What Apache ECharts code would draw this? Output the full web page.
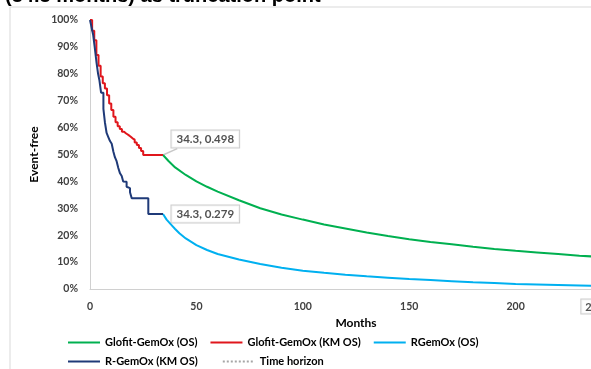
<html lang="en">

<head>
  <meta charset="utf-8">
  <title>Event-free survival</title>
  <script src="https://cdn.jsdelivr.net/npm/echarts@6/dist/echarts.min.js"></script>
  <style>
    body { margin: 0; background: #fff; }
    #chart { width: 591px; height: 369px; }
  </style>
</head>

<body>
  <div id="chart"></div>
</body>

<script>
  // Kaplan-Meier (observed) curves, months vs survival
  var glofitKM = [[0, 1.0], [1, 0.96], [2, 0.925], [3, 0.87], [4, 0.83], [5, 0.79], [6, 0.765], [7, 0.745],
    [8, 0.72], [9, 0.69], [10, 0.665], [11, 0.64], [12, 0.62], [13, 0.605], [14, 0.595], [15, 0.585],
    [16, 0.578], [17, 0.573], [18, 0.567], [19, 0.56], [20, 0.555], [21, 0.545], [22, 0.535], [23, 0.524],
    [24, 0.513], [25, 0.498], [34.3, 0.498]];
  var rgemoxKM = [[0, 1.0], [0.8, 0.97], [1.5, 0.944], [2.2, 0.9], [3.1, 0.84], [3.8, 0.8], [4.4, 0.777],
    [5.2, 0.73], [6.3, 0.67], [7, 0.62], [7.8, 0.58], [8.6, 0.565], [9.4, 0.55], [10.2, 0.54], [11, 0.51],
    [11.7, 0.49], [12.5, 0.475], [13.3, 0.45], [14.1, 0.43], [14.9, 0.42], [15.6, 0.4], [16.4, 0.399],
    [17.2, 0.38], [18, 0.375], [18.8, 0.36], [19.6, 0.337], [27.4, 0.279], [34.3, 0.279]];

  // extrapolated OS curves after truncation point
  var glofitOS = [[34.3, 0.498], [37, 0.475], [40, 0.452], [45, 0.424], [50, 0.4], [55, 0.38], [60, 0.362],
    [70, 0.33], [80, 0.3], [90, 0.277], [100, 0.258], [110, 0.24], [120, 0.225], [130, 0.21], [140, 0.197],
    [150, 0.185], [160, 0.175], [170, 0.166], [180, 0.157], [190, 0.149], [200, 0.142], [210, 0.136],
    [220, 0.13], [230, 0.124], [240, 0.119], [250, 0.114]];
  var rgemoxOS = [[34.3, 0.279], [36, 0.258], [38, 0.24], [40, 0.223], [42, 0.207], [45, 0.188], [50, 0.163],
    [55, 0.145], [60, 0.13], [70, 0.11], [80, 0.093], [90, 0.079], [100, 0.068], [110, 0.06], [120, 0.053],
    [130, 0.047], [140, 0.042], [150, 0.037], [160, 0.033], [170, 0.029], [180, 0.025], [190, 0.022],
    [200, 0.019], [210, 0.017], [220, 0.015], [230, 0.013], [240, 0.011], [250, 0.01]];

  var timeHorizon = [[240, 0], [240, 1]];
  var cutPoints = [[34.3, 0.498], [34.3, 0.279]];
  // callout pointer from the upper label box to its point
  var callout = [[34.3, 0.498], [41, 0.522]];

  var names = ['Glofit-GemOx (OS)', 'Glofit-GemOx (KM OS)', 'RGemOx (OS)', 'R-GemOx (KM OS)', 'Time horizon'];
  var colors = ['#00b050', '#e0161c', '#00b0f0', '#1f3a78', '#a6a6a6'];

  var font = 'Lato, "Open Sans", sans-serif';

  var plot = echarts.init(document.getElementById('chart'));

  option = {
    animation: false,
    backgroundColor: '#fff',
    title: {
      text: '(34.3 months) as truncation point',
      left: 0,
      top: -19,
      textStyle: { fontFamily: 'Liberation Sans', fontWeight: 'bold', fontSize: 20, color: '#000' }
    },
    graphic: [{
      type: 'rect',
      shape: { x: 10, y: 7, width: 620, height: 400 },
      style: { fill: 'none', stroke: '#d9d9d9', lineWidth: 1 },
      silent: true
    }],
    grid: { left: 90, right: -31, top: 20, bottom: 80, outerBoundsMode: 'none', containLabel: false },
    legend: [{
      data: names.slice(0, 3),
      left: 62, top: 332, itemWidth: 32, itemHeight: 10, itemGap: 12,
      itemStyle: { opacity: 0 },
      textStyle: { fontFamily: font, fontWeight: 'bold', fontSize: 11, color: '#000' }
    }, {
      data: names.slice(3),
      left: 62, top: 351, itemWidth: 32, itemHeight: 10, itemGap: 24,
      itemStyle: { opacity: 0 },
      textStyle: { fontFamily: font, fontWeight: 'bold', fontSize: 11, color: '#000' }
    }],
    xAxis: {
      type: 'value',
      min: 0, max: 250, interval: 50,
      name: 'Months', nameLocation: 'center', nameGap: 27,
      nameTextStyle: { fontFamily: font, fontWeight: 'bold', fontSize: 12, color: '#000' },
      axisLine: { lineStyle: { color: '#d0d0d0' } },
      axisTick: { show: false },
      splitLine: { show: false },
      axisLabel: { fontFamily: font, fontWeight: 'bold', fontSize: 10.5, color: '#404040', margin: 12 }
    },
    yAxis: {
      type: 'value',
      min: 0, max: 1, interval: 0.1,
      name: 'Event-free', nameLocation: 'center', nameGap: 46, nameRotate: 90,
      nameTextStyle: { fontFamily: font, fontWeight: 'bold', fontSize: 12, color: '#000' },
      axisLine: { show: true, lineStyle: { color: '#d0d0d0' } },
      axisTick: { show: false },
      splitLine: { show: false },
      axisLabel: {
        fontFamily: font, fontWeight: 'bold', fontSize: 10.5, color: '#404040', margin: 12,
        formatter: function (v) { return Math.round(v * 100) + '%'; }
      }
    },
    series: [{
      name: 'callout', type: 'line', data: callout, symbol: 'none', silent: true,
      lineStyle: { color: '#c8c8c8', width: 1.5 }
    }, {
      name: names[0], type: 'line', data: glofitOS, symbol: 'none',
      lineStyle: { color: colors[0], width: 2 }, itemStyle: { color: colors[0] }
    }, {
      name: names[1], type: 'line', data: glofitKM, step: 'end', symbol: 'none',
      lineStyle: { color: colors[1], width: 2 }, itemStyle: { color: colors[1] }
    }, {
      name: names[2], type: 'line', data: rgemoxOS, symbol: 'none',
      lineStyle: { color: colors[2], width: 2 }, itemStyle: { color: colors[2] }
    }, {
      name: names[3], type: 'line', data: rgemoxKM, step: 'end', symbol: 'none',
      lineStyle: { color: colors[3], width: 2 }, itemStyle: { color: colors[3] }
    }, {
      name: names[4], type: 'line', data: timeHorizon, symbol: 'none',
      lineStyle: { color: colors[4], width: 1.5, type: 'dotted' }, itemStyle: { color: colors[4] }
    }, {
      name: 'cut labels', type: 'scatter', data: cutPoints, symbolSize: 1,
      itemStyle: { color: 'rgba(0,0,0,0)' },
      label: {
        show: true, position: 'right', distance: 8,
        formatter: function (p) { return p.value[0] + ', ' + p.value[1]; },
        fontFamily: font, fontWeight: 'bold', fontSize: 11.5, color: '#262626',
        backgroundColor: '#fff', borderColor: '#bfbfbf', borderWidth: 1, padding: [3, 5, 2, 5]
      },
      labelLayout: function (p) { return p.dataIndex === 0 ? { dy: -16 } : {}; }
    }, {
      name: 'horizon label', type: 'scatter', data: timeHorizon.slice(0, 1), symbolSize: 1,
      itemStyle: { color: 'rgba(0,0,0,0)' },
      label: {
        show: true, position: 'bottom', distance: 10,
        formatter: function (p) { return p.value[0] + ', ' + p.value[1]; },
        fontFamily: font, fontWeight: 'bold', fontSize: 11, color: '#262626',
        backgroundColor: '#fff', borderColor: '#bfbfbf', borderWidth: 1, padding: [2, 4, 1, 4]
      }
    }]
  };
  plot.setOption(option = option)

</script>

</html>
